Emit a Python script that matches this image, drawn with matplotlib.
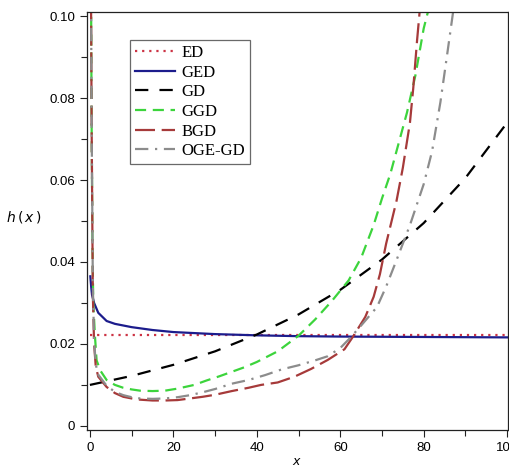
import numpy as np
import matplotlib as mpl
from matplotlib import pyplot as plt

# hazard rate curves
edX = [0.0, 100.0]
edY = [0.0223, 0.0223]

gedX = [0.1, 0.3, 0.5, 1.0, 2.0, 4.0, 6.0, 10.0, 15.0, 20.0, 30.0, 40.0, 50.0, 60.0, 80.0, 100.0]
gedY = [0.0365, 0.0340, 0.0320, 0.0300, 0.0276, 0.0256, 0.0249, 0.0241, 0.0234, 0.0229, 0.0224,
        0.0221, 0.0219, 0.0218, 0.0217, 0.0216]

gdX = [0.0, 10.0, 20.0, 30.0, 40.0, 50.0, 60.0, 70.0, 80.0, 90.0, 100.0]
gdY = [0.0100, 0.0122, 0.0149, 0.0182, 0.0223, 0.0272, 0.0332, 0.0406, 0.0495, 0.0605, 0.0740]

ggdX = [0.05, 0.2, 0.4, 0.6, 0.8, 1.2, 1.6, 2.5, 4.0, 6.0, 8.0, 10.0, 12.0, 15.0, 18.0, 21.0,
        25.0, 28.0, 31.0, 34.0, 37.0, 40.0, 45.0, 50.0, 54.0, 58.0, 62.0, 65.0, 68.0, 70.0,
        72.0, 74.0, 76.0, 78.0, 80.0, 81.0, 82.0]
ggdY = [0.30, 0.125, 0.075, 0.045, 0.030, 0.022, 0.016, 0.0135, 0.0112, 0.0100, 0.0093, 0.0089,
        0.0086, 0.0085, 0.0086, 0.0091, 0.0100, 0.0111, 0.0121, 0.0132, 0.0143, 0.0156, 0.0182,
        0.0220, 0.0260, 0.0305, 0.0355, 0.0410, 0.0490, 0.0555, 0.0615, 0.0690, 0.0765, 0.0855,
        0.0970, 0.1010, 0.1060]

bgdX = [0.05, 0.2, 0.4, 0.7, 1.0, 1.4, 2.0, 4.0, 6.0, 8.0, 10.0, 12.0, 15.0, 18.0, 21.0, 24.0,
        27.0, 30.0, 34.0, 38.0, 41.0, 45.0, 49.0, 53.0, 57.0, 61.0, 63.0, 66.0, 68.0, 69.5,
        71.0, 73.5, 75.0, 76.7, 77.5, 78.4, 79.0, 79.5]
bgdY = [0.30, 0.12, 0.075, 0.032, 0.020, 0.0145, 0.0120, 0.0095, 0.0080, 0.0071, 0.0067, 0.0064,
        0.0062, 0.0062, 0.0063, 0.0067, 0.0071, 0.0076, 0.0085, 0.0093, 0.0100, 0.0106, 0.0120,
        0.0139, 0.0161, 0.0187, 0.0217, 0.0266, 0.0315, 0.0370, 0.0445, 0.0550, 0.0630, 0.0740,
        0.0825, 0.0940, 0.1008, 0.1080]

ogeX = [0.05, 0.2, 0.4, 0.7, 1.0, 1.4, 2.0, 4.0, 6.0, 8.0, 10.0, 12.0, 15.0, 18.0, 21.0, 24.0,
        27.0, 30.0, 34.0, 38.0, 42.0, 46.0, 50.0, 54.0, 57.0, 60.0, 62.4, 65.0, 68.8, 71.0,
        73.5, 76.7, 80.0, 82.0, 84.0, 85.6, 87.0, 88.0]
ogeY = [0.30, 0.12, 0.076, 0.034, 0.021, 0.0150, 0.0125, 0.0098, 0.0083, 0.0075, 0.0070, 0.0067,
        0.0066, 0.0067, 0.0070, 0.0075, 0.0082, 0.0090, 0.0103, 0.0112, 0.0124, 0.0138, 0.0148,
        0.0160, 0.0170, 0.0190, 0.0215, 0.0245, 0.0290, 0.0340, 0.0405, 0.0490, 0.0590, 0.0670,
        0.0790, 0.0905, 0.1007, 0.1070]

xTicks = [0, 20, 40, 60, 80, 100]
yTicks = [0.0, 0.02, 0.04, 0.06, 0.08, 0.10]
yTickLabels = ['0', '0.02', '0.04', '0.06', '0.08', '0.10']

if __name__ == '__main__':

    mpl.rcParams['font.family'] = 'Liberation Sans'

    f = plt.figure(figsize = (5.10, 4.68), dpi = 100)
    ax1 = f.add_axes([87.0 / 510, 38.0 / 468, 421.0 / 510, 418.0 / 468])

    lw = 1.6
    ax1.plot(edX, edY, color = '#cc3344', lw = lw, ls = (0, (1, 2.2)), label = 'ED')
    ax1.plot(gedX, gedY, color = '#1c1c8c', lw = lw, ls = '-', label = 'GED')
    ax1.plot(gdX, gdY, color = 'black', lw = lw, ls = (0, (6, 5)), label = 'GD')
    ax1.plot(ggdX, ggdY, color = '#3cd43c', lw = lw, ls = (0, (5, 3)), label = 'GGD')
    ax1.plot(bgdX, bgdY, color = '#a63a3a', lw = lw, ls = (0, (9, 3)), label = 'BGD')
    ax1.plot(ogeX, ogeY, color = '#8c8c8c', lw = lw, ls = (0, (6, 3, 1, 3)), label = 'OGE-GD')

    # axes limits and ticks
    ax1.set_xlim(-0.7, 100.2)
    ax1.set_ylim(-0.001, 0.101)
    ax1.set_xticks(xTicks)
    ax1.set_xticks([10, 30, 50, 70, 90], minor = True)
    ax1.set_yticks(yTicks)
    ax1.set_yticklabels(yTickLabels)
    ax1.set_yticks([0.01, 0.03, 0.05, 0.07, 0.09], minor = True)
    ax1.tick_params(which = 'both', direction = 'out', labelsize = 9.5, width = 0.8, color = '#222222')
    ax1.tick_params(which = 'major', length = 5)
    ax1.tick_params(which = 'minor', length = 4)
    for sp in ax1.spines.values():
        sp.set_linewidth(0.9)
        sp.set_color('#222222')

    # labeling
    f.text(24.0 / 510, 1.0 - 217.0 / 468, r'$h\,(\,x\,)$', ha = 'center', va = 'center',
           fontsize = 10, family = 'Liberation Serif')
    f.text(297.0 / 510, 1.0 - 462.0 / 468, r'$x$', ha = 'center', va = 'center',
           fontsize = 9, family = 'Liberation Serif')

    # legend, top left corner at pixel (130, 40)
    leg = ax1.legend(loc = 'upper left',
                     bbox_to_anchor = ((130.0 - 87.0) / 421, (468.0 - 40.0 - 38.0) / 418),
                     prop = {'family': 'Liberation Serif', 'size': 12},
                     handlelength = 2.4, handletextpad = 0.4, labelspacing = 0.22,
                     borderpad = 0.3, borderaxespad = 0.0, fancybox = False)
    leg.get_frame().set_edgecolor('#444444')
    leg.get_frame().set_linewidth(0.9)

    f.savefig('out.png', dpi = 100)
    plt.close()
